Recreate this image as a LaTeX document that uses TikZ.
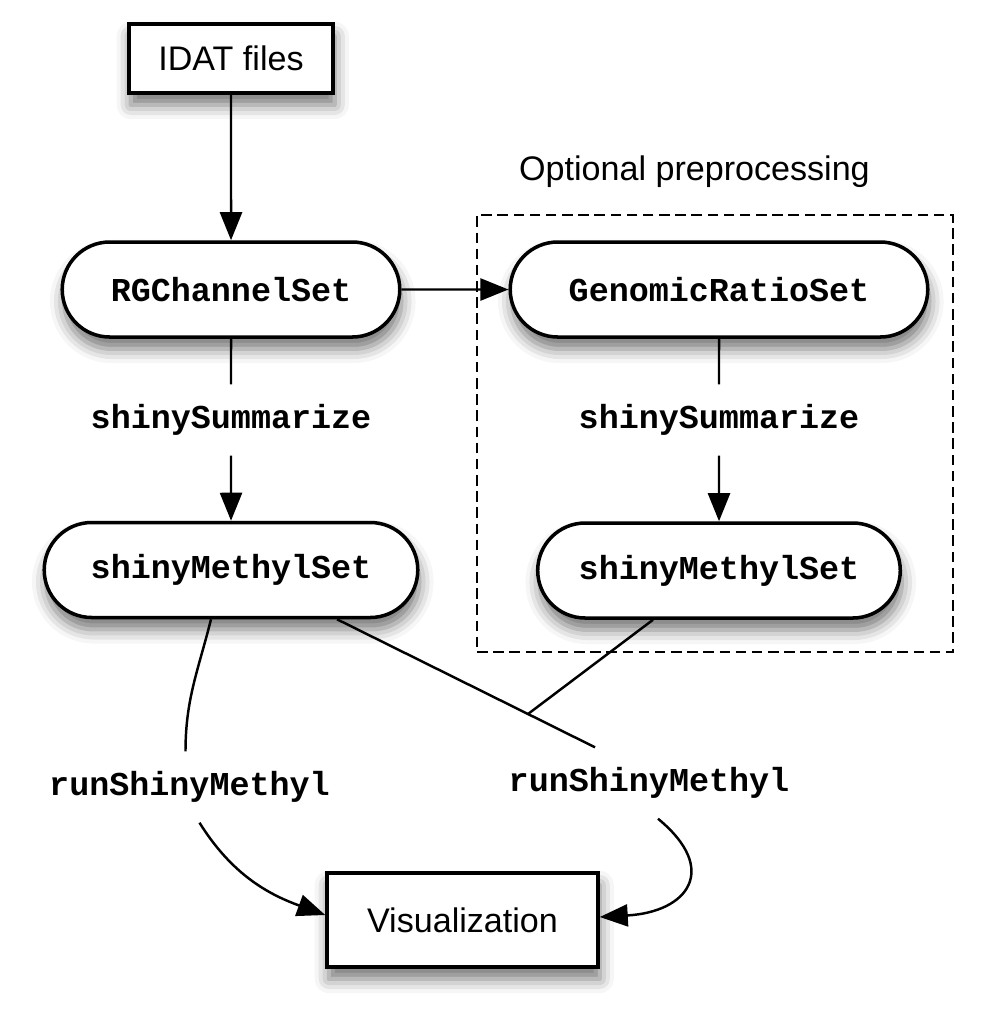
\documentclass[tikz,border=0pt]{standalone}
\usepackage{fontspec}
\setmainfont{Liberation Sans}
\setmonofont{Liberation Mono}
\usetikzlibrary{shapes.misc,arrows.meta,shadows.blur}
\begin{document}
\begin{tikzpicture}[
  font=\fontsize{9.7pt}{11pt}\selectfont,
  shade/.style={blur shadow={shadow xshift=0.5pt, shadow yshift=-3.4pt, shadow blur radius=4pt, shadow opacity=55}},
  box/.style={shape=rectangle, draw=black, line width=1pt, fill=white, shade},
  pill/.style={shape=rounded rectangle, draw=black, line width=1pt, fill=white, minimum height=0.95cm, font=\fontsize{9.5pt}{11pt}\selectfont\ttfamily\bfseries, shade},
  fn/.style={font=\fontsize{9.5pt}{11pt}\selectfont\ttfamily\bfseries, inner sep=0pt, minimum height=0.7cm},
  link/.style={line width=0.7pt},
  flow/.style={-{Triangle[length=2.8mm,width=2.2mm]}, line width=0.7pt}
]
\useasboundingbox (0,0) rectangle (10,-10.15);
% optional part
\node[draw=black, line width=0.8pt, dash pattern=on 3pt off 1.6pt, minimum width=4.76cm, minimum height=4.37cm] (grp) at (7.15,-4.335) {};
\node (opt) at (6.945,-1.72) {Optional preprocessing};
% data nodes
\node[box, minimum width=2.04cm, minimum height=0.69cm] (idat) at (2.31,-0.585) {IDAT files};
\node[pill, minimum width=3.61cm] (rgset) at (2.31,-2.895) {RGChannelSet};
\node[pill, minimum width=4.41cm] (grset) at (7.19,-2.895) {GenomicRatioSet};
\node[fn] (sum1) at (2.31,-4.20) {shinySummarize};
\node[fn] (sum2) at (7.19,-4.20) {shinySummarize};
\node[pill, minimum width=3.97cm] (sms1) at (2.31,-5.70) {shinyMethylSet};
\node[pill, minimum width=3.86cm] (sms2) at (7.19,-5.705) {shinyMethylSet};
\node[fn] (run1) at (1.895,-7.87) {runShinyMethyl};
\node[fn] (run2) at (6.49,-7.83) {runShinyMethyl};
\node[box, minimum width=2.71cm, minimum height=0.94cm] (vis) at (4.625,-9.20) {Visualization};
\coordinate (jn) at (5.28,-7.14);
% connectors
\path [flow] (idat) edge (rgset);
\path [flow] (rgset) edge (grset);
\path [link] (rgset) edge (sum1);
\path [flow] (sum1) edge (sms1);
\path [link] (grset) edge (sum2);
\path [flow] (sum2) edge (sms2);
\draw [link] ([xshift=-2mm]sms1.south) to[out=-104, in=90] ([xshift=-0.4mm]run1.north);
\draw [flow] ([xshift=1mm]run1.south) to[out=-58, in=160] ([yshift=0.5mm]vis.west);
\draw [link] ([xshift=10.6mm]sms1.south) -- (jn) -- ([xshift=-5.4mm]run2.north);
\draw [link] ([xshift=-6.6mm]sms2.south) -- (jn);
\draw [flow] ([xshift=0.9mm]run2.south) .. controls +(0.62,-0.51) and +(0.88,0.05) .. ([yshift=0.3mm]vis.east);
\end{tikzpicture}
\end{document}
